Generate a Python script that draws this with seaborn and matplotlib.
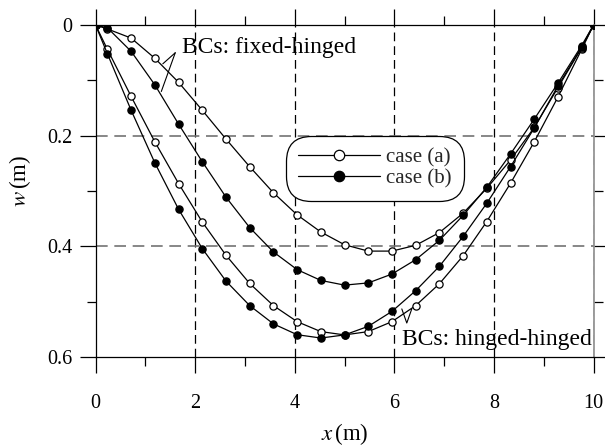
import matplotlib
matplotlib.use("Agg")
import matplotlib.pyplot as plt
from matplotlib.lines import Line2D
from matplotlib.ticker import MultipleLocator
import seaborn as sns
import pandas as pd

# Deflection w along the span x for two boundary conditions and two load cases
x_m = [0, 0.238, 0.714, 1.190, 1.667, 2.143, 2.619, 3.095, 3.571, 4.048, 4.524,
       5.0, 5.476, 5.952, 6.429, 6.905, 7.381, 7.857, 8.333, 8.810, 9.286, 9.762, 10]

fixed_hinged_a = [0, 0.007, 0.0235, 0.060, 0.1035, 0.154, 0.206, 0.256, 0.303, 0.343, 0.374,
                  0.397, 0.4085, 0.4085, 0.398, 0.375, 0.340, 0.295, 0.244, 0.185, 0.113, 0.041, 0]
fixed_hinged_b = [0, 0.005, 0.0475, 0.108, 0.179, 0.247, 0.311, 0.366, 0.410, 0.442, 0.4615,
                  0.470, 0.466, 0.450, 0.424, 0.389, 0.344, 0.293, 0.233, 0.170, 0.105, 0.037, 0]
hinged_hinged_a = [0, 0.044, 0.129, 0.211, 0.2864, 0.356, 0.416, 0.467, 0.507, 0.536, 0.554,
                   0.560, 0.554, 0.536, 0.507, 0.4675, 0.417, 0.355, 0.286, 0.211, 0.130, 0.044, 0]
hinged_hinged_b = [0, 0.052, 0.154, 0.249, 0.333, 0.404, 0.4627, 0.507, 0.540, 0.5596, 0.5656,
                   0.560, 0.5445, 0.5175, 0.480, 0.436, 0.382, 0.322, 0.256, 0.186, 0.110, 0.040, 0]

case_labels = ["case (a)", "case (b)"]
x_ticks = [0, 2, 4, 6, 8, 10]
y_ticks = [0, 0.2, 0.4, 0.6]
y_tick_labels = ["0", "0.2", "0.4", "0.6"]

sns.set_theme(style="ticks")
plt.rcParams["font.family"] = ["Liberation Serif", "DejaVu Serif"]
plt.rcParams["mathtext.fontset"] = "stix"
FS_TICK = 14.5
FS_LEG = 15
FS_NOTE = 17
FS_LABEL = 16.5

fig = plt.figure(figsize=(6.05, 4.48), dpi=100)
ax = fig.add_axes([0.158, 0.203, 0.823, 0.741])

# Interior dashed guide lines at the major ticks
for xv in x_ticks[1:]:
    ax.axvline(xv, color="black", ls=(0, (7, 4)), lw=0.9, zorder=1)
for yv in y_ticks[1:-1]:
    ax.axhline(yv, color="0.45", ls=(0, (7, 4)), lw=1.2, zorder=1)

line_kw = dict(color="black", lw=0.9, marker="o", ms=5.2, mew=0.9, mec="black")
series = [
    (hinged_hinged_a, "white"),
    (fixed_hinged_a, "white"),
    (hinged_hinged_b, "black"),
    (fixed_hinged_b, "black"),
]
for w, face in series:
    df = pd.DataFrame({"x": x_m, "w": w})
    sns.lineplot(data=df, x="x", y="w", ax=ax, mfc=face, sort=False,
                 estimator=None, legend=False, zorder=3, **line_kw)

ax.set_xlim(0, 10)
ax.set_ylim(0.6, 0)
ax.set_xticks(x_ticks)
ax.set_yticks(y_ticks)
ax.set_yticklabels(y_tick_labels)
ax.xaxis.set_minor_locator(MultipleLocator(1))
ax.yaxis.set_minor_locator(MultipleLocator(0.1))

ax.tick_params(which="both", direction="out", top=True, right=True,
               labeltop=False, labelright=False, color="black", width=0.9,
               labelsize=FS_TICK, labelcolor="black")
ax.tick_params(which="major", length=11.5)
ax.tick_params(which="minor", length=6.5)
ax.tick_params(axis="x", which="major", pad=15)
ax.tick_params(axis="y", which="major", pad=5)

for side in ["left", "top", "bottom"]:
    ax.spines[side].set_color("black")
    ax.spines[side].set_linewidth(0.9)
ax.spines["right"].set_color("0.55")
ax.spines["right"].set_linewidth(1.2)

ax.set_xlabel(r"$x\,$(m)", fontsize=FS_LABEL, labelpad=6, color="black")
ax.set_ylabel(r"$w\,$(m)", fontsize=FS_LABEL, color="black")
ax.yaxis.set_label_coords(-0.125, 0.53)

handles = [
    Line2D([], [], color="black", lw=0.9, marker="o", ms=7.5, mfc="white", mec="black", mew=0.9),
    Line2D([], [], color="black", lw=0.9, marker="o", ms=7.5, mfc="black", mec="black", mew=0.9),
]
leg = ax.legend(handles, case_labels, loc="center", bbox_to_anchor=(0.561, 0.569),
                fontsize=FS_LEG, handlelength=3.9, handletextpad=0.3, labelspacing=0.05,
                borderpad=0.35, fancybox=True, framealpha=1, edgecolor="black",
                borderaxespad=0)
leg.get_frame().set_linewidth(0.9)
leg.get_frame().set_boxstyle("round", pad=0.25, rounding_size=1.2)
leg.set_zorder(5)

# Boundary-condition callouts
ax.text(1.74, 0.04, "BCs: fixed-hinged", fontsize=FS_NOTE, va="center", ha="left", color="black")
ax.plot([1.60, 1.35], [0.050, 0.070], color="black", lw=0.8)
ax.plot([1.60, 1.32], [0.050, 0.120], color="black", lw=0.8)

ax.text(6.15, 0.568, "BCs: hinged-hinged", fontsize=FS_NOTE, va="center", ha="left", color="black")
ax.plot([6.15, 6.25, 6.35], [0.513, 0.5385, 0.513], color="black", lw=0.8)

fig.savefig("out.png", dpi=100)
